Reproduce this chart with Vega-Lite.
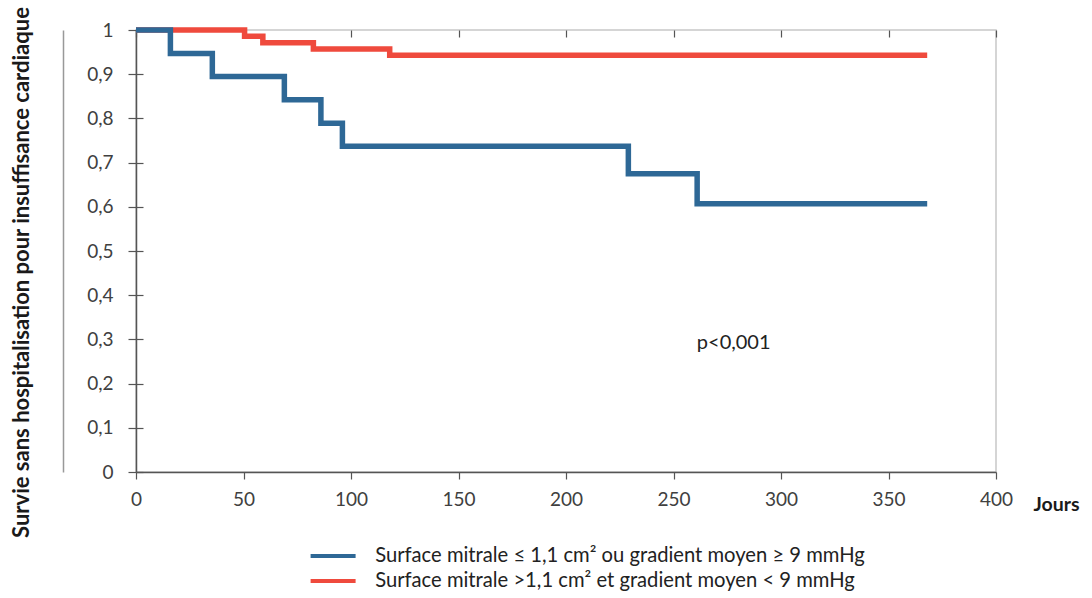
{
  "$schema": "https://vega.github.io/schema/vega-lite/v6.json",
  "width": 860,
  "height": 442,
  "autosize": {"type": "none"},
  "padding": {"left": 136, "top": 30, "right": 96, "bottom": 126},
  "background": "white",
  "config": {
    "font": "Lato",
    "view": {"stroke": "#c8c8c8", "strokeWidth": 1.5}
  },
  "datasets": {
    "km": [
      {"groupe": "Surface mitrale >1,1 cm² et gradient moyen < 9 mmHg", "jours": 0, "survie": 1},
      {"groupe": "Surface mitrale >1,1 cm² et gradient moyen < 9 mmHg", "jours": 50.5, "survie": 0.986},
      {"groupe": "Surface mitrale >1,1 cm² et gradient moyen < 9 mmHg", "jours": 59, "survie": 0.971},
      {"groupe": "Surface mitrale >1,1 cm² et gradient moyen < 9 mmHg", "jours": 82.5, "survie": 0.957},
      {"groupe": "Surface mitrale >1,1 cm² et gradient moyen < 9 mmHg", "jours": 118, "survie": 0.943},
      {"groupe": "Surface mitrale >1,1 cm² et gradient moyen < 9 mmHg", "jours": 368, "survie": 0.943},
      {"groupe": "Surface mitrale ≤ 1,1 cm² ou gradient moyen ≥ 9 mmHg", "jours": 0, "survie": 1},
      {"groupe": "Surface mitrale ≤ 1,1 cm² ou gradient moyen ≥ 9 mmHg", "jours": 16, "survie": 0.947},
      {"groupe": "Surface mitrale ≤ 1,1 cm² ou gradient moyen ≥ 9 mmHg", "jours": 35.5, "survie": 0.895},
      {"groupe": "Surface mitrale ≤ 1,1 cm² ou gradient moyen ≥ 9 mmHg", "jours": 69, "survie": 0.842},
      {"groupe": "Surface mitrale ≤ 1,1 cm² ou gradient moyen ≥ 9 mmHg", "jours": 86, "survie": 0.789},
      {"groupe": "Surface mitrale ≤ 1,1 cm² ou gradient moyen ≥ 9 mmHg", "jours": 96, "survie": 0.737},
      {"groupe": "Surface mitrale ≤ 1,1 cm² ou gradient moyen ≥ 9 mmHg", "jours": 229, "survie": 0.675},
      {"groupe": "Surface mitrale ≤ 1,1 cm² ou gradient moyen ≥ 9 mmHg", "jours": 261, "survie": 0.607},
      {"groupe": "Surface mitrale ≤ 1,1 cm² ou gradient moyen ≥ 9 mmHg", "jours": 368, "survie": 0.607}
    ],
    "note": [
      {"jours": 278, "survie": 0.292, "label": "p<0,001"}
    ]
  },
  "layer": [
    {
      "data": {"name": "km"},
      "mark": {"type": "line", "interpolate": "step-after", "strokeWidth": 5.5, "strokeCap": "butt"},
      "encoding": {
        "x": {
          "field": "jours",
          "type": "quantitative",
          "scale": {"domain": [0, 400], "nice": false},
          "axis": {
            "values": [0, 50, 100, 150, 200, 250, 300, 350, 400],
            "title": "Jours",
            "titleFont": "Lato",
            "titleFontSize": 19.5,
            "titleFontWeight": "bold",
            "titleColor": "#1a1a1a",
            "titleX": 897,
            "titleY": 32,
            "titleAlign": "left",
            "titleBaseline": "middle",
            "titleAngle": 0,
            "domainColor": "#555555",
            "domainWidth": 1.5,
            "tickColor": "#555555",
            "tickSize": 7,
            "tickWidth": 1.2,
            "grid": true,
            "gridDash": [7, 3000],
            "gridColor": "#555555",
            "gridWidth": 1.2,
            "labelFont": "Lato",
            "labelFontSize": 19,
            "labelColor": "#404040",
            "labelPadding": 11,
            "labelFlush": false
          }
        },
        "y": {
          "field": "survie",
          "type": "quantitative",
          "scale": {"domain": [0, 1], "nice": false},
          "axis": {
            "values": [0, 0.1, 0.2, 0.3, 0.4, 0.5, 0.6, 0.7, 0.8, 0.9, 1],
            "labelExpr": "replace(format(datum.value, '.1~f'), '.', ',')",
            "title": "Survie sans hospitalisation pour insuffisance cardiaque",
            "titleFont": "Lato",
            "titleFontSize": 22,
            "titleFontWeight": "bold",
            "titleColor": "#1a1a1a",
            "titleX": -115,
            "titleY": 242,
            "titleAngle": 270,
            "titleAlign": "center",
            "titleBaseline": "middle",
            "domainColor": "#555555",
            "domainWidth": 1.5,
            "tickColor": "#555555",
            "tickSize": 8,
            "tickWidth": 1.2,
            "grid": true,
            "gridDash": [7, 3000],
            "gridColor": "#555555",
            "gridWidth": 1.2,
            "labelFont": "Lato",
            "labelFontSize": 19,
            "labelColor": "#404040",
            "labelPadding": 15,
            "labelFlush": false
          }
        },
        "color": {
          "field": "groupe",
          "type": "nominal",
          "scale": {
            "domain": ["Surface mitrale ≤ 1,1 cm² ou gradient moyen ≥ 9 mmHg", "Surface mitrale >1,1 cm² et gradient moyen < 9 mmHg"],
            "range": ["#2e6896", "#ef4a3d"]
          },
          "legend": {
            "orient": "none",
            "legendX": 187,
            "legendY": 516,
            "direction": "vertical",
            "title": null,
            "symbolType": "M-3,0H3",
            "symbolSize": 225,
            "symbolStrokeWidth": 4,
            "labelFont": "Lato",
            "labelFontSize": 20.2,
            "labelColor": "#222222",
            "labelOffset": 32,
            "labelLimit": 0,
            "rowPadding": 4
          }
        }
      }
    },
    {
      "data": {"name": "note"},
      "mark": {"type": "text", "font": "Lato", "fontSize": 20, "color": "#222222"},
      "encoding": {
        "x": {"field": "jours", "type": "quantitative"},
        "y": {
          "field": "survie",
          "type": "quantitative",
          "axis": {
            "orient": "left",
            "offset": 73,
            "domainColor": "#999999",
            "domainWidth": 1.5,
            "ticks": false,
            "labels": false,
            "grid": false,
            "title": null
          }
        },
        "text": {"field": "label"}
      }
    }
  ],
  "resolve": {"axis": {"y": "independent"}}
}
